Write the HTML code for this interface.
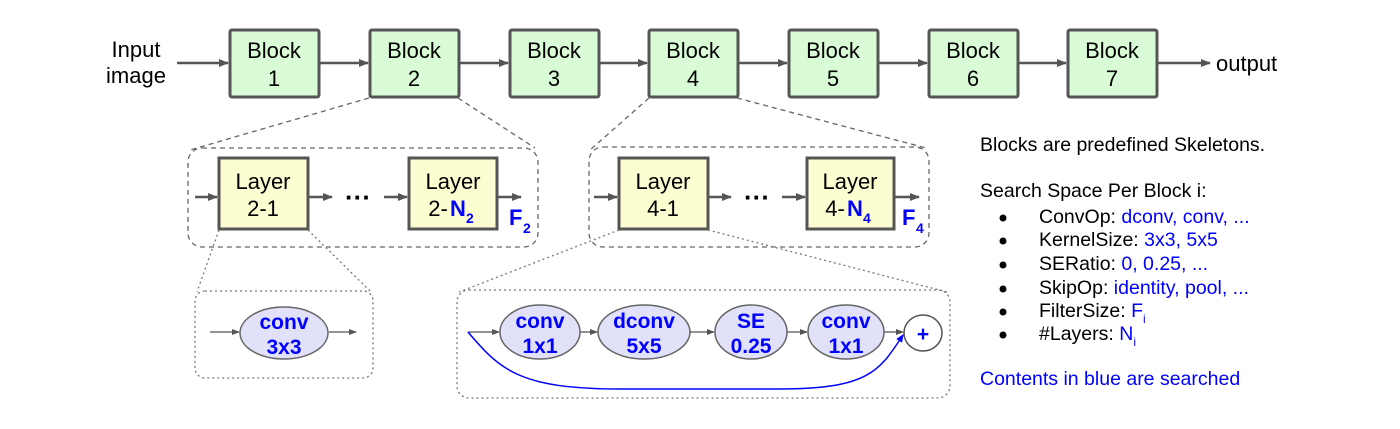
<!DOCTYPE html>
<html><head><meta charset="utf-8"><style>
html,body{margin:0;padding:0;background:#fff;}
svg{display:block;font-family:"Liberation Sans",Arial,sans-serif;}
</style></head><body>
<svg width="1400" height="429" viewBox="0 0 1400 429" xmlns="http://www.w3.org/2000/svg">
<defs>
<marker id="a" markerWidth="10" markerHeight="8" refX="9" refY="4" orient="auto" markerUnits="userSpaceOnUse"><path d="M0,0 L10,4 L0,8 z" fill="#555"/></marker>
<marker id="as" markerWidth="8" markerHeight="6" refX="7" refY="3" orient="auto" markerUnits="userSpaceOnUse"><path d="M0,0 L8,3 L0,6 z" fill="#555"/></marker>
<marker id="ab" markerWidth="8" markerHeight="7" refX="7" refY="3.5" orient="auto" markerUnits="userSpaceOnUse"><path d="M0,0 L8,3.5 L0,7 z" fill="#00f"/></marker>
</defs>

<text x="136" y="57" font-size="22" text-anchor="middle">Input</text>
<text x="136" y="83" font-size="22" text-anchor="middle">image</text>
<line x1="177" y1="63" x2="228" y2="63" stroke="#555" stroke-width="2.5" marker-end="url(#a)"/>

<g stroke="#555" stroke-width="3" fill="#d9fcd6">
<rect x="230" y="30" width="89" height="67" rx="2"/>
<rect x="370" y="30" width="89" height="67" rx="2"/>
<rect x="510" y="30" width="89" height="67" rx="2"/>
<rect x="649" y="30" width="89" height="67" rx="2"/>
<rect x="789" y="30" width="89" height="67" rx="2"/>
<rect x="929" y="30" width="89" height="67" rx="2"/>
<rect x="1068" y="30" width="89" height="67" rx="2"/>
</g>
<g stroke="#555" stroke-width="2.5" marker-end="url(#a)">
<line x1="320" y1="63" x2="368" y2="63"/>
<line x1="460" y1="63" x2="508" y2="63"/>
<line x1="600" y1="63" x2="647" y2="63"/>
<line x1="739" y1="63" x2="787" y2="63"/>
<line x1="879" y1="63" x2="927" y2="63"/>
<line x1="1019" y1="63" x2="1066" y2="63"/>
<line x1="1158" y1="63" x2="1210" y2="63"/>
</g>
<g font-size="22" text-anchor="middle">
<text x="274" y="58">Block</text><text x="274" y="86">1</text>
<text x="414" y="58">Block</text><text x="414" y="86">2</text>
<text x="554" y="58">Block</text><text x="554" y="86">3</text>
<text x="693" y="58">Block</text><text x="693" y="86">4</text>
<text x="833" y="58">Block</text><text x="833" y="86">5</text>
<text x="973" y="58">Block</text><text x="973" y="86">6</text>
<text x="1112" y="58">Block</text><text x="1112" y="86">7</text>
</g>
<text x="1216" y="71" font-size="22">output</text>

<g stroke="#666" stroke-width="1.3" stroke-dasharray="5,4" fill="none">
<line x1="369" y1="98" x2="190" y2="150"/>
<line x1="458" y1="98" x2="535" y2="148"/>
<line x1="649" y1="98" x2="590" y2="150"/>
<line x1="737" y1="98" x2="926" y2="148"/>
<rect x="188" y="148" width="350" height="99" rx="14"/>
<rect x="589" y="147" width="340" height="100" rx="14"/>
</g>

<g stroke="#555" stroke-width="3" fill="#fdfdd2">
<rect x="219" y="158" width="89" height="71"/>
<rect x="409" y="158" width="88" height="71"/>
<rect x="619" y="158" width="89" height="71"/>
<rect x="807" y="158" width="87" height="71"/>
</g>
<g stroke="#555" stroke-width="2.5" marker-end="url(#a)">
<line x1="195" y1="197" x2="217" y2="197"/>
<line x1="309" y1="197" x2="332" y2="197"/>
<line x1="384" y1="197" x2="407" y2="197"/>
<line x1="498" y1="197" x2="521" y2="197"/>
<line x1="594" y1="197" x2="617" y2="197"/>
<line x1="709" y1="197" x2="731" y2="197"/>
<line x1="782" y1="197" x2="805" y2="197"/>
<line x1="895" y1="197" x2="919" y2="197"/>
</g>
<g font-size="22" text-anchor="middle">
<text x="263" y="189">Layer</text><text x="263" y="216">2-1</text>
<text x="453" y="189">Layer</text><text x="438" y="216">2-</text>
<text x="663" y="189">Layer</text><text x="663" y="216">4-1</text>
<text x="850" y="189">Layer</text><text x="835" y="216">4-</text>
</g>
<text x="450" y="216" font-size="22" font-weight="bold" fill="#00f">N</text>
<text x="466" y="223" font-size="14" font-weight="bold" fill="#00f">2</text>
<text x="847" y="216" font-size="22" font-weight="bold" fill="#00f">N</text>
<text x="863" y="223" font-size="14" font-weight="bold" fill="#00f">4</text>
<text x="509" y="225" font-size="22" font-weight="bold" fill="#00f">F</text>
<text x="523" y="233" font-size="14" font-weight="bold" fill="#00f">2</text>
<text x="902" y="225" font-size="22" font-weight="bold" fill="#00f">F</text>
<text x="916" y="233" font-size="14" font-weight="bold" fill="#00f">4</text>
<text x="358" y="206" font-size="26" font-weight="bold" text-anchor="middle">···</text>
<text x="757" y="206" font-size="26" font-weight="bold" text-anchor="middle">···</text>

<g stroke="#777" stroke-width="1.3" stroke-dasharray="2,3" fill="none">
<line x1="219" y1="230" x2="197" y2="292"/>
<line x1="308" y1="230" x2="371" y2="292"/>
<line x1="619" y1="230" x2="459" y2="292"/>
<line x1="708" y1="230" x2="947" y2="292"/>
<rect x="195" y="291" width="178" height="87" rx="10"/>
<rect x="457" y="290" width="493" height="108" rx="12"/>
</g>

<g stroke="#666" stroke-width="1.5" fill="#e1e1f9">
<ellipse cx="284" cy="333" rx="44" ry="26"/>
<ellipse cx="540" cy="332" rx="40" ry="27"/>
<ellipse cx="644" cy="332" rx="46" ry="27"/>
<ellipse cx="751" cy="332" rx="36" ry="27"/>
<ellipse cx="846" cy="332" rx="38" ry="27"/>
</g>
<ellipse cx="923" cy="333" rx="19" ry="18" stroke="#555" stroke-width="1.5" fill="#fff"/>
<g stroke="#555" stroke-width="1.3" marker-end="url(#as)">
<line x1="210" y1="332" x2="239" y2="332"/>
<line x1="329" y1="332" x2="356" y2="332"/>
<line x1="468" y1="332" x2="499" y2="332"/>
<line x1="580" y1="332" x2="597" y2="332"/>
<line x1="690" y1="332" x2="714" y2="332"/>
<line x1="787" y1="332" x2="807" y2="332"/>
<line x1="884" y1="332" x2="903" y2="332"/>
</g>
<path d="M468,332 C500,370 520,389 620,389 L780,389 C870,389 880,370 903,335" stroke="#00f" stroke-width="1.5" fill="none" marker-end="url(#ab)"/>
<g font-size="21" font-weight="bold" fill="#00f" text-anchor="middle">
<text x="284" y="329">conv</text><text x="284" y="354">3x3</text>
<text x="540" y="328">conv</text><text x="540" y="353">1x1</text>
<text x="644" y="328">dconv</text><text x="644" y="353">5x5</text>
<text x="751" y="328">SE</text><text x="751" y="353">0.25</text>
<text x="846" y="328">conv</text><text x="846" y="353">1x1</text>
<text x="923" y="341">+</text>
</g>

<g font-size="19.5">
<text x="980" y="151">Blocks are predefined Skeletons.</text>
<text x="980" y="197">Search Space Per Block i:</text>
<g fill="#000"><circle cx="1003" cy="218" r="3.5"/><circle cx="1003" cy="241" r="3.5"/><circle cx="1003" cy="265" r="3.5"/><circle cx="1003" cy="289" r="3.5"/><circle cx="1003" cy="312" r="3.5"/><circle cx="1003" cy="335" r="3.5"/></g>
<text x="1039" y="223">ConvOp: <tspan fill="#00f">dconv, conv, ...</tspan></text>
<text x="1039" y="246">KernelSize: <tspan fill="#00f">3x3, 5x5</tspan></text>
<text x="1039" y="270">SERatio: <tspan fill="#00f">0, 0.25, ...</tspan></text>
<text x="1039" y="294">SkipOp: <tspan fill="#00f">identity, pool, ...</tspan></text>
<text x="1039" y="317">FilterSize: <tspan fill="#00f">F</tspan><tspan fill="#00f" font-size="12" dy="6">i</tspan></text>
<text x="1039" y="340">#Layers: <tspan fill="#00f">N</tspan><tspan fill="#00f" font-size="12" dy="6">i</tspan></text>
<text x="980" y="385" fill="#00f">Contents in blue are searched</text>
</g>
</svg>
</body></html>
